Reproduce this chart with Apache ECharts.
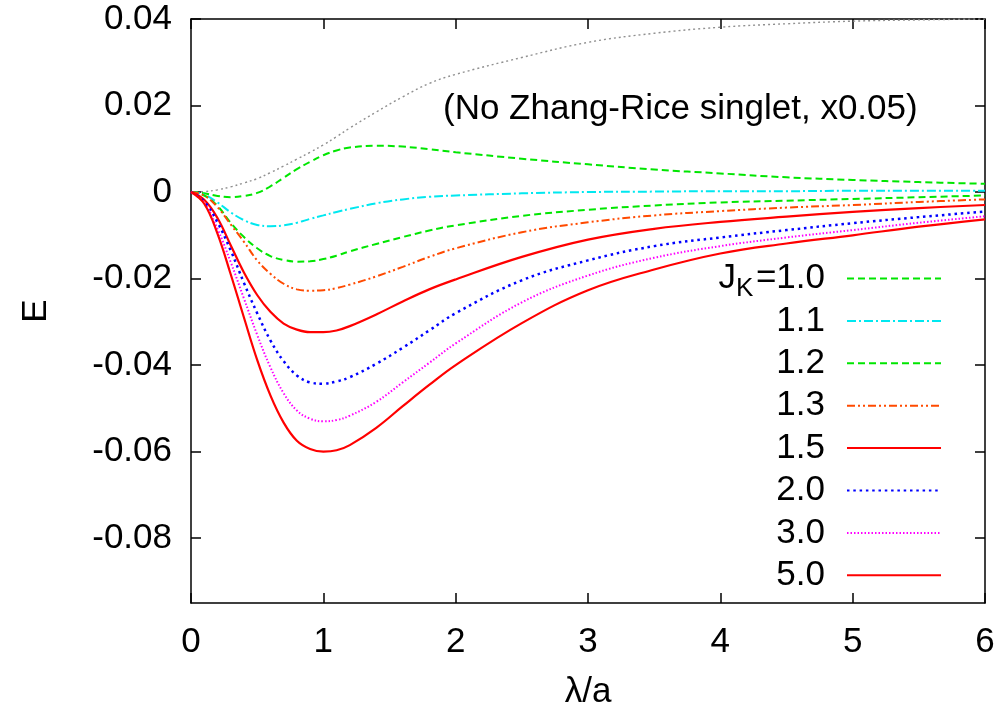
<!DOCTYPE html>
<html>
<head>
<meta charset="utf-8">
<script src="https://cdn.jsdelivr.net/npm/echarts@6/dist/echarts.min.js"></script>
<style>
  html, body { margin: 0; padding: 0; background: #fff; }
  #chart { width: 1003px; height: 715px; }
</style>
</head>
<body>
<div id="chart"></div>
<script>
// lambda/a sample points
const xs = [0, 0.1, 0.2, 0.3, 0.4, 0.5, 0.6, 0.7, 0.8, 0.9, 1.0, 1.1, 1.2, 1.4, 1.6, 1.8, 2.0, 2.5, 3.0, 3.5, 4.0, 4.5, 5.0, 5.5, 6.0]

// E for each J_K
const noZR = [0, 0.0001, 0.0005, 0.0012, 0.0021, 0.0031, 0.0045, 0.0060, 0.0076, 0.0092, 0.0109, 0.0128, 0.0148, 0.0185, 0.0220, 0.0251, 0.0272, 0.0311, 0.0346, 0.0367, 0.0381, 0.0389, 0.0395, 0.0398, 0.0400]
const jk10 = [0, -0.0003, -0.0009, -0.0012, -0.0009, -0.0002, 0.0013, 0.0033, 0.0053, 0.0070, 0.0085, 0.0096, 0.0103, 0.0107, 0.0105, 0.0099, 0.0092, 0.0077, 0.0064, 0.0052, 0.0043, 0.0034, 0.0028, 0.0023, 0.0019]
const jk11 = [0, -0.0006, -0.0024, -0.0047, -0.0065, -0.0076, -0.0079, -0.0077, -0.0071, -0.0062, -0.0054, -0.0046, -0.0039, -0.0026, -0.0017, -0.0011, -0.0008, -0.0003, 0.0000, 0.0001, 0.0002, 0.0002, 0.0003, 0.0003, 0.0003]
const jk12 = [0, -0.0008, -0.0032, -0.0071, -0.0104, -0.0130, -0.0148, -0.0157, -0.0161, -0.0160, -0.0155, -0.0147, -0.0137, -0.0120, -0.0104, -0.0089, -0.0077, -0.0055, -0.0041, -0.0031, -0.0024, -0.0020, -0.0016, -0.0012, -0.0008]
const jk13 = [0, -0.0008, -0.0035, -0.0075, -0.0115, -0.0158, -0.0189, -0.0212, -0.0225, -0.0228, -0.0227, -0.0222, -0.0214, -0.0195, -0.0173, -0.0150, -0.0130, -0.0093, -0.0070, -0.0054, -0.0044, -0.0036, -0.0030, -0.0023, -0.0017]
const jk15 = [0, -0.0018, -0.0060, -0.0123, -0.0186, -0.0238, -0.0277, -0.0304, -0.0318, -0.0324, -0.0324, -0.0320, -0.0310, -0.0283, -0.0253, -0.0225, -0.0202, -0.0150, -0.0110, -0.0085, -0.0069, -0.0057, -0.0046, -0.0037, -0.0030]
const jk20 = [0, -0.0022, -0.0070, -0.0135, -0.0210, -0.0280, -0.0343, -0.0391, -0.0424, -0.0440, -0.0443, -0.0438, -0.0428, -0.0397, -0.0360, -0.0320, -0.0280, -0.0204, -0.0158, -0.0125, -0.0105, -0.0088, -0.0072, -0.0058, -0.0045]
const jk30 = [0, -0.0025, -0.0085, -0.0162, -0.0246, -0.0330, -0.0405, -0.0465, -0.0505, -0.0524, -0.0530, -0.0527, -0.0517, -0.0485, -0.0440, -0.0395, -0.0350, -0.0255, -0.0193, -0.0152, -0.0125, -0.0105, -0.0088, -0.0071, -0.0056]
const jk50 = [0, -0.0027, -0.0096, -0.0190, -0.0290, -0.0388, -0.0470, -0.0533, -0.0575, -0.0594, -0.0600, -0.0597, -0.0585, -0.0545, -0.0495, -0.0446, -0.0400, -0.0303, -0.0227, -0.0179, -0.0142, -0.0119, -0.0100, -0.0080, -0.0063]

const yTicks = [-0.08, -0.06, -0.04, -0.02, 0, 0.02, 0.04]
const FONT = "'Liberation Sans', Arial, sans-serif"
const FS = 35

function pairs(ys) {
  return xs.map((x, i) => [x, ys[i]])
}

function curve(name, ys, color, dash, width) {
  return {
    name: name,
    type: 'line',
    data: pairs(ys),
    smooth: 0.4,
    symbol: 'none',
    clip: true,
    lineStyle: { color: color, width: width || 2, type: dash },
    itemStyle: { color: color }
  }
}

let chart = echarts.init(document.getElementById('chart'))

let tickStyle = { inside: true, length: 10, lineStyle: { color: '#000', width: 1.5 } }
let lineAx = { onZero: false, lineStyle: { color: '#000', width: 1.5 } }

// J_K prefix in front of the first legend entry
let jkY = 278
let jkText = [
  { type: 'text', x: 736, y: jkY, style: { text: 'J', font: FS + 'px ' + FONT, fill: '#000', align: 'right', verticalAlign: 'middle' } },
  { type: 'text', x: 736, y: jkY + 11, style: { text: 'K', font: '26px ' + FONT, fill: '#000', align: 'left', verticalAlign: 'middle' } },
  { type: 'text', x: 756, y: jkY, style: { text: '=', font: FS + 'px ' + FONT, fill: '#000', align: 'left', verticalAlign: 'middle' } }
]

chart.setOption({
  animation: false,
  backgroundColor: '#fff',
  textStyle: { fontFamily: FONT },
  grid: { left: 191, top: 19, right: 18, bottom: 108 },
  legend: {
    data: ['1.0', '1.1', '1.2', '1.3', '1.5', '2.0', '3.0', '5.0'],
    orient: 'vertical',
    align: 'right',
    right: 61,
    top: 261,
    padding: 0,
    itemWidth: 94,
    itemHeight: 28,
    itemGap: 7.4,
    itemStyle: { opacity: 0 },
    formatter: function (n) {
      return '{m|' + n + '}'
    },
    textStyle: {
      fontFamily: FONT,
      fontSize: FS,
      color: '#000',
      padding: [0, 17, 0, 0],
      rich: {
        m: { fontFamily: FONT, fontSize: FS, lineHeight: 28, color: '#000' }
      }
    }
  },
  graphic: jkText.concat([{
    type: 'text',
    x: 443,
    y: 109,
    style: {
      text: '(No Zhang-Rice singlet, x0.05)',
      font: FS + 'px ' + FONT,
      fill: '#000',
      verticalAlign: 'middle'
    }
  }]),
  xAxis: [{
    type: 'value',
    min: 0,
    max: 6,
    interval: 1,
    name: 'λ/a',
    nameLocation: 'middle',
    nameGap: 72,
    nameTextStyle: { fontSize: FS, color: '#000', fontFamily: FONT },
    axisLine: lineAx,
    axisTick: tickStyle,
    splitLine: { show: false },
    axisLabel: { fontSize: FS, color: '#000', margin: 22, fontFamily: FONT }
  }, {
    type: 'value',
    position: 'top',
    min: 0,
    max: 6,
    interval: 1,
    axisLine: lineAx,
    axisTick: tickStyle,
    splitLine: { show: false },
    axisLabel: { show: false }
  }],
  yAxis: [{
    type: 'value',
    min: -0.095,
    max: 0.04,
    name: 'E',
    nameLocation: 'middle',
    nameGap: 137,
    nameTextStyle: { fontSize: FS, color: '#000', fontFamily: FONT },
    axisLine: lineAx,
    axisTick: Object.assign({ customValues: yTicks }, tickStyle),
    splitLine: { show: false },
    axisLabel: {
      customValues: yTicks,
      fontSize: FS, color: '#000', margin: 19, fontFamily: FONT,
      formatter: function (v) { return Math.abs(v) < 1e-9 ? '0' : v.toFixed(2) }
    }
  }, {
    type: 'value',
    position: 'right',
    min: -0.095,
    max: 0.04,
    axisLine: lineAx,
    axisTick: Object.assign({ customValues: yTicks }, tickStyle),
    splitLine: { show: false },
    axisLabel: { show: false }
  }],
  series: [
    curve('noZR', noZR, '#909090', [2, 3], 1.4),
    curve('1.0', jk10, '#00e600', [7, 4]),
    curve('1.1', jk11, '#00e8f0', [9, 3, 2, 3]),
    curve('1.2', jk12, '#00e600', [7, 4]),
    curve('1.3', jk13, '#ff4a00', [8, 3, 2, 3, 2, 3]),
    curve('1.5', jk15, '#ff0000', 'solid', 2.2),
    curve('2.0', jk20, '#0000ff', [2.5, 3.8], 2.5),
    curve('3.0', jk30, '#ff00ff', [1.5, 2]),
    curve('5.0', jk50, '#ff0000', 'solid', 2.2)
  ]
})
</script>
</body>
</html>
